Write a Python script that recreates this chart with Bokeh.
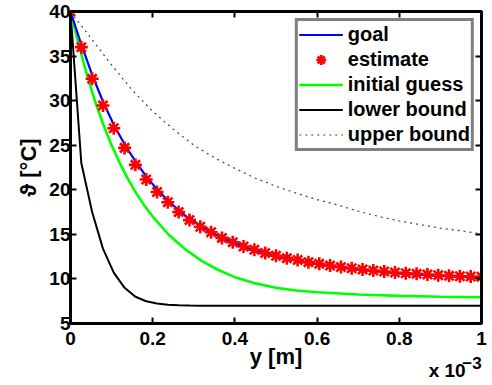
import numpy as np
from bokeh.plotting import figure
from bokeh.models import (LinearAxis, FixedTicker, CustomJSTickFormatter, Legend,
                          Range1d)
from bokeh.embed import file_html
from bokeh.resources import INLINE

# ---- data (y in units of 1e-3 m) ----
grid_x = list(np.linspace(0, 1, 39))

estimate = [40.0, 36.0, 32.45, 29.45, 26.9, 24.7, 22.8, 21.15, 19.75, 18.6,
            17.5, 16.6, 15.85, 15.24, 14.6, 14.12, 13.64, 13.27, 12.9, 12.6,
            12.33, 12.12, 11.88, 11.7, 11.5, 11.33, 11.2, 11.06, 10.95, 10.83,
            10.72, 10.64, 10.57, 10.5, 10.42, 10.35, 10.3, 10.27, 10.24]

goal = [40.0, 36.3, 32.9, 29.9, 27.3, 25.1, 23.2, 21.5, 20.05, 18.8,
        17.7, 16.75, 15.95, 15.25, 14.62, 14.1, 13.62, 13.22, 12.87, 12.55,
        12.27, 12.03, 11.8, 11.6, 11.42, 11.26, 11.12, 10.99, 10.87, 10.76,
        10.66, 10.57, 10.49, 10.42, 10.35, 10.29, 10.23, 10.18, 10.14]

lower_bound = [40.0, 23.0, 17.5, 13.4, 10.7, 9.0, 8.0, 7.5, 7.25, 7.1,
               7.05, 7.02, 7.0, 7.0, 7.0, 7.0, 7.0, 7.0, 7.0, 7.0,
               7.0, 7.0, 7.0, 7.0, 7.0, 7.0, 7.0, 7.0, 7.0, 7.0,
               7.0, 7.0, 7.0, 7.0, 7.0, 7.0, 7.0, 7.0, 7.0]

init_x = [0, 0.02, 0.04, 0.06, 0.08, 0.10, 0.12, 0.14, 0.16, 0.18, 0.20,
          0.24, 0.28, 0.32, 0.36, 0.40, 0.45, 0.50, 0.55, 0.60, 0.70, 0.80, 0.90, 1.0]
initial_guess = [40.0, 36.3, 32.9, 29.9, 27.3, 25.0, 23.0, 21.2, 19.6, 18.2, 17.0,
                 14.9, 13.3, 12.0, 11.0, 10.2, 9.5, 9.0, 8.7, 8.5, 8.25, 8.1, 8.0, 7.95]

upper_x = [0, 0.05, 0.10, 0.15, 0.20, 0.25, 0.30, 0.35, 0.40, 0.45, 0.50,
           0.55, 0.60, 0.65, 0.70, 0.75, 0.80, 0.85, 0.90, 0.95, 1.0]
upper_bound = [40.0, 37.0, 34.0, 31.2, 28.8, 26.8, 25.0, 23.6, 22.4, 21.3, 20.4,
               19.6, 18.9, 18.3, 17.6, 17.0, 16.5, 16.1, 15.7, 15.4, 15.05]

x_ticks = [0, 0.2, 0.4, 0.6, 0.8, 1]
y_ticks = [5, 10, 15, 20, 25, 30, 35, 40]

FONT = "Liberation Sans"

p = figure(width=492, height=385, output_backend="svg", toolbar_location=None,
           x_range=Range1d(0, 1), y_range=Range1d(5, 40),
           min_border_left=70, min_border_right=11, min_border_top=11,
           min_border_bottom=62)
p.xgrid.visible = False
p.ygrid.visible = False
p.outline_line_color = "black"
p.outline_line_width = 3
p.background_fill_color = "white"
p.border_fill_color = "white"

fmt = CustomJSTickFormatter(code="return tick.toString();")
blank = CustomJSTickFormatter(code="return '';")

def style_axis(ax, ticks, labels=True):
    ax.ticker = FixedTicker(ticks=ticks)
    ax.axis_line_width = 3
    ax.axis_line_color = "black"
    ax.major_tick_in = 6
    ax.major_tick_out = 0
    ax.major_tick_line_width = 2
    ax.minor_tick_line_color = None
    if labels:
        ax.major_label_text_font = FONT
        ax.major_label_text_font_style = "bold"
        ax.major_label_text_font_size = "19px"
        ax.major_label_text_color = "black"
        ax.axis_label_text_font = FONT
        ax.axis_label_text_font_style = "bold"
        ax.axis_label_text_font_size = "22px"
        ax.axis_label_text_color = "black"
    else:
        ax.formatter = blank
        ax.major_label_standoff = 0

xa = p.xaxis[0]
style_axis(xa, x_ticks)
xa.formatter = fmt
xa.axis_label = "y [m]"
xa.major_label_standoff = 8
xa.axis_label_standoff = -4

ya = p.yaxis[0]
style_axis(ya, y_ticks)
ya.axis_label = "ϑ [°C]"
ya.major_label_standoff = 0
ya.axis_label_standoff = 5

top = LinearAxis()
style_axis(top, x_ticks, labels=False)
p.add_layout(top, "above")
right = LinearAxis()
style_axis(right, y_ticks, labels=False)
p.add_layout(right, "right")

# exponent note "x 10^-3" drawn as labels of two tick-less axes below
def note_axis(text, size, standoff, pad, fallback_prefix):
    ax = LinearAxis(ticker=FixedTicker(ticks=[]), formatter=blank,
                    axis_line_color=None, major_tick_line_color=None,
                    minor_tick_line_color=None, major_label_standoff=0,
                    major_tick_out=0, major_tick_in=0)
    ax.axis_label_text_font = FONT
    ax.axis_label_text_font_style = "bold"
    ax.axis_label_text_font_size = size
    ax.axis_label_text_color = "black"
    ax.axis_label_standoff = standoff
    try:
        ax.axis_label_align = "end"
        ax.axis_label = text + "\u00a0" * pad
    except Exception:
        ax.axis_label = "\u00a0" * fallback_prefix + text
    return ax

p.add_layout(note_axis("x 10", "19px", -12, 13, 65), "below")
p.add_layout(note_axis("−3", "17px", -30, 4, 83), "below")

r_up = p.line(upper_x, upper_bound, line_color="#444444", line_width=1.2, line_dash="2 4")
r_low = p.line(grid_x, lower_bound, line_color="black", line_width=2)
r_init = p.line(init_x, initial_guess, line_color="#00ff00", line_width=2.6)
r_goal = p.line(grid_x, goal, line_color="#0000ff", line_width=2.2)
r_est = p.scatter(grid_x, estimate, marker="asterisk", size=13, line_color="#ff0000",
                  line_width=2.6)

legend = Legend(items=[("goal", [r_goal]), ("estimate", [r_est]),
                       ("initial guess", [r_init]), ("lower bound", [r_low]),
                       ("upper bound", [r_up])],
                location="top_right", margin=7, padding=1, spacing=0,
                glyph_width=44, glyph_height=25, label_height=20,
                label_standoff=5,
                border_line_color="black", border_line_width=3,
                background_fill_color="white", background_fill_alpha=1.0,
                label_text_font=FONT, label_text_font_style="bold",
                label_text_font_size="20px", label_text_color="black")
p.add_layout(legend)

open("out.html", "w").write(file_html(p, INLINE))
